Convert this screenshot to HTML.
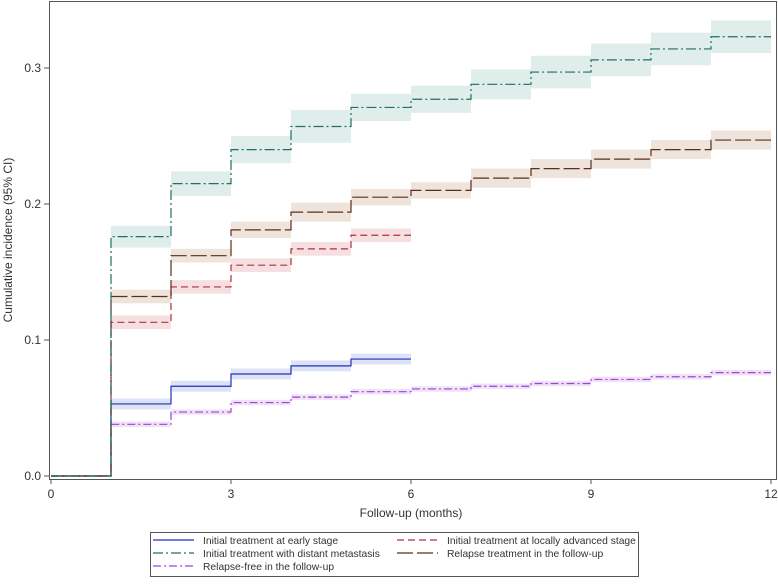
<!DOCTYPE html>
<html><head><meta charset="utf-8"><style>
body{margin:0;background:#fff;font-family:"Liberation Sans",sans-serif;}
svg text{font-family:"Liberation Sans",sans-serif;fill:#333;}
</style></head><body>
<svg id="chart" width="778" height="579" viewBox="0 0 778 579"></svg>
<script>
const months=[0,1,2,3,4,5,6,7,8,9,10,11,12];
const xTicks=[0,3,6,9,12];
const yTicks=[0.0,0.1,0.2,0.3];
const yTickLabels=["0.0","0.1","0.2","0.3"];
const earlyVals=[0,0.053,0.066,0.075,0.081,0.086];
const earlyCI=[0,0.004,0.004,0.004,0.004,0.004];
const localVals=[0,0.113,0.139,0.155,0.167,0.177];
const localCI=[0,0.005,0.005,0.005,0.005,0.005];
const distantVals=[0,0.176,0.215,0.240,0.257,0.271,0.277,0.288,0.297,0.306,0.314,0.323];
const distantCI=[0,0.008,0.009,0.010,0.012,0.010,0.010,0.011,0.012,0.012,0.012,0.012];
const relapseVals=[0,0.132,0.162,0.181,0.194,0.205,0.210,0.219,0.226,0.233,0.240,0.247];
const relapseCI=[0,0.005,0.005,0.006,0.007,0.006,0.006,0.007,0.007,0.007,0.007,0.007];
const freeVals=[0,0.038,0.047,0.054,0.058,0.062,0.064,0.066,0.068,0.071,0.073,0.076];
const freeCI=[0,0.002,0.002,0.002,0.002,0.002,0.002,0.002,0.002,0.002,0.002,0.002];

const svg=document.getElementById('chart');
const NS='http://www.w3.org/2000/svg';
const X0=51,X1=771,Y0=476,YS=1360;
const xs=v=>X0+(X1-X0)*v/12;
const ys=v=>Y0-v*YS;
function mk(tag,attrs,parent){const e=document.createElementNS(NS,tag);for(const k in attrs)e.setAttribute(k,attrs[k]);(parent||svg).appendChild(e);return e;}

const frame=mk('rect',{x:49.5,y:1.5,width:727,height:478,fill:'none',stroke:'#555','stroke-width':1});



const series=[
 {name:'relapse-free',vals:freeVals,ci:freeCI,color:'#a040e0',band:'#f0e2f6',dash:'8,3,2,3'},
 {name:'early-stage',vals:earlyVals,ci:earlyCI,color:'#2030c0',band:'#dde3f5',dash:''},
 {name:'locally-advanced',vals:localVals,ci:localCI,color:'#b03040',band:'#f6dfe0',dash:'7,4'},
 {name:'relapse-treatment',vals:relapseVals,ci:relapseCI,color:'#5a3018',band:'#efe4dc',dash:'16,4'},
 {name:'distant-metastasis',vals:distantVals,ci:distantCI,color:'#1f7060',band:'#e0eeeb',dash:'10,3,2,3'}
];
series.forEach(s=>{
 const g=mk('g',{});
 
 
 for(let i=1;i<s.vals.length;i++){
  const r=mk('rect',{x:xs(i),y:ys(s.vals[i]+s.ci[i]),width:xs(i+1)-xs(i),height:ys(s.vals[i]-s.ci[i])-ys(s.vals[i]+s.ci[i]),fill:s.band},g);
  
  
 }
});
series.forEach(s=>{
 let d='M'+xs(0)+','+ys(s.vals[0]);
 for(let i=1;i<s.vals.length;i++){d+=' L'+xs(i)+','+ys(s.vals[i-1])+' L'+xs(i)+','+ys(s.vals[i]);}
 d+=' L'+xs(s.vals.length)+','+ys(s.vals[s.vals.length-1]);
 const p=mk('path',{d:d,fill:'none',stroke:s.color,'stroke-width':1.2,'stroke-dasharray':s.dash});
 
 
});
xTicks.forEach(t=>{
 const l=mk('line',{x1:xs(t),x2:xs(t),y1:479,y2:484,stroke:'#555'});
 
 
 const tx=mk('text',{x:xs(t),y:498,'text-anchor':'middle','font-size':12});
 tx.textContent=t;
 
 
});
yTicks.forEach((t,i)=>{
 const l=mk('line',{x1:44,x2:49.5,y1:ys(t),y2:ys(t),stroke:'#555'});
 
 
 const tx=mk('text',{x:41,y:ys(t)+4,'text-anchor':'end','font-size':12});
 tx.textContent=yTickLabels[i];
 
 
});
const xt=mk('text',{x:411,y:517,'text-anchor':'middle','font-size':12});
xt.textContent='Follow-up (months)';


const yt=mk('text',{x:12,y:240,'text-anchor':'middle','font-size':12,transform:'rotate(-90 12 240)'});
yt.textContent='Cumulative incidence (95% CI)';



const lg=mk('g',{});


mk('rect',{x:150.5,y:532.5,width:488,height:44,fill:'#fff',stroke:'#555'},lg);
const entries=[
 {label:'Initial treatment at early stage',color:'#2030c0',dash:'',x:153,y:543},
 {label:'Initial treatment at locally advanced stage',color:'#b03040',dash:'7,4',x:397,y:543},
 {label:'Initial treatment with distant metastasis',color:'#1f7060',dash:'10,3,2,3',x:153,y:556},
 {label:'Relapse treatment in the follow-up',color:'#5a3018',dash:'16,4',x:397,y:556},
 {label:'Relapse-free in the follow-up',color:'#a040e0',dash:'8,3,2,3',x:153,y:569}
];
entries.forEach(e=>{
 const g=mk('g',{},lg);
 
 
 mk('line',{x1:e.x,x2:e.x+41,y1:e.y-3,y2:e.y-3,stroke:e.color,'stroke-width':1.2,'stroke-dasharray':e.dash},g);
 const t=mk('text',{x:e.x+50,y:e.y+1,'font-size':10.3},g);
 t.textContent=e.label;
});
</script>
</body></html>
